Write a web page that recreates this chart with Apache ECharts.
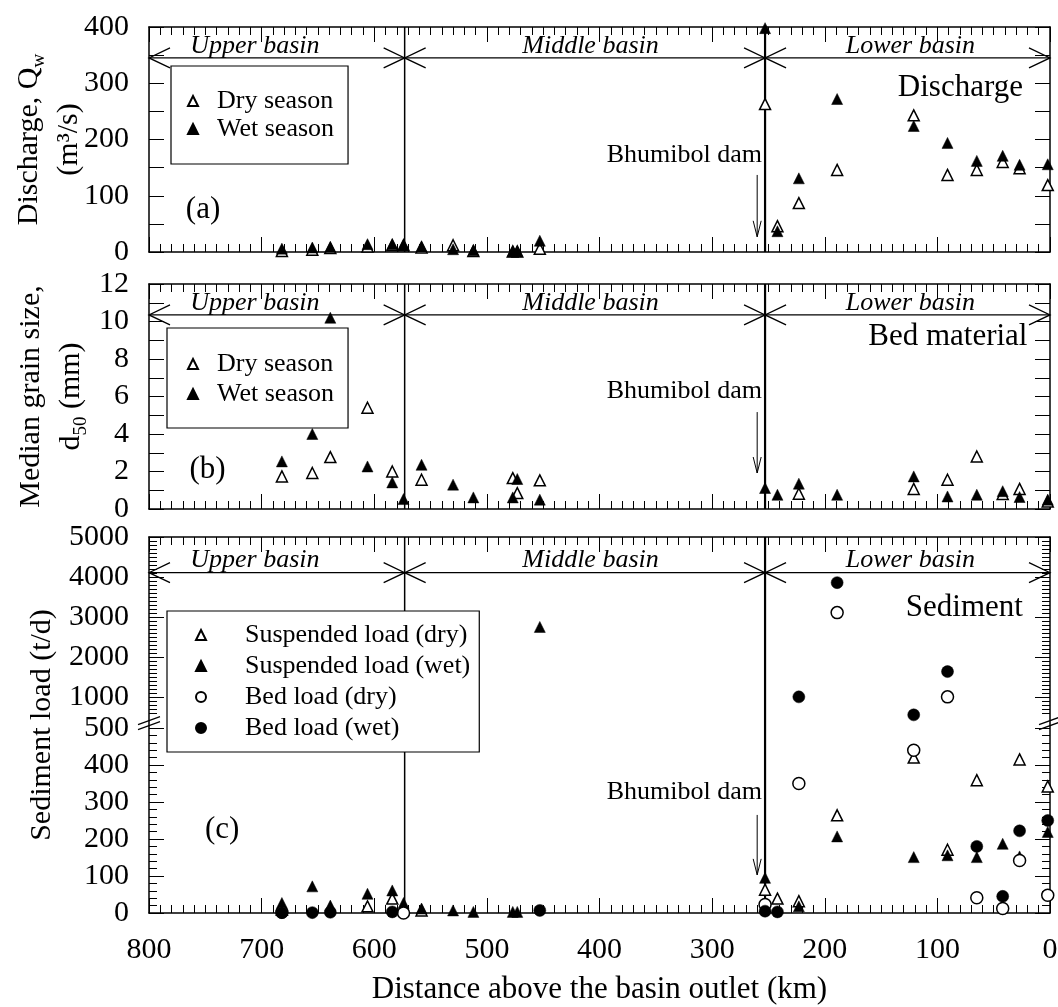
<!DOCTYPE html>
<html><head><meta charset="utf-8">
<script src="https://cdn.jsdelivr.net/npm/echarts@6/dist/echarts.min.js"></script>
<style>html,body{margin:0;padding:0;background:#fff}#c{width:1058px;height:1007px}</style>
</head><body><div id="c"></div>
<script>
// ---------- DATA ----------
const stationKm     = [682, 655, 639, 606, 584, 574, 558, 530, 512, 477, 473, 453, 253, 242, 223, 189, 121, 91, 65, 42, 27, 2];
const dischargeDry  = [2, 4, 7, 10, 12, 12, 8, 12, 2, 1, 1, 6, 263, 46, 87, 146, 243, 137, 146, 160, 149, 119];
const dischargeWet  = [6, 8, 9, 14, 14, 13, 10, 5, 3, 1, 1, 20, 398, 37, 131, 272, 224, 194, 162, 171, 155, 156];
const grainDry      = [1.74, 1.92, 2.77, 5.4, 2.0, null, 1.56, null, null, 1.65, 0.85, 1.53, null, null, 0.82, null, 1.07, 1.56, 2.8, 0.8, 1.07, 0.4];
const grainWet      = [2.54, 4.0, 10.2, 2.27, 1.42, 0.53, 2.36, 1.3, 0.62, 0.62, 1.6, 0.5, 1.12, 0.76, 1.35, 0.76, 1.74, 0.67, 0.76, 0.95, 0.64, 0.5];
const suspDry       = [9, null, null, 18, 39, null, 7, null, null, null, null, null, 63, 39, 32, 264, 420, 171, 359, null, 415, 342];
const suspWet       = [27, 72, 20, 52, 61, 27, 12, 7, 3, 3, 3, 2750, 95, null, 18, 207, 151, 156, 151, 187, 153, 219];
const bedDry        = [2, null, null, null, null, 0, null, null, null, null, null, null, 23, null, 350, 3108, 440, 1000, 41, 12, 142, 48];
const bedWet        = [1, 1, 2, null, 3, null, null, null, null, null, null, 7, 5, 3, 1000, 3858, 550, 1633, 180, 45, 222, 250];

const basinBounds   = [800, 573, 253, 0];
const basinNames    = ['Upper basin', 'Middle basin', 'Lower basin'];
const basinLabelKm  = [706, 408, 124];
const damKm         = 253;

const sedMajorTicks = [0, 100, 200, 300, 400, 500, 1000, 2000, 3000, 4000, 5000];

// ---------- broken axis transform for panel (c) ----------
const BREAK = 500, GAP = 30, UPPER_K = 0.108;
function sedY(v) { return v <= BREAK ? v : BREAK + GAP + (v - BREAK) * UPPER_K; }
const SED_MAX = sedY(5000);
const sedMajorDisp = sedMajorTicks.map(sedY);
const sedMinorDisp = [];
for (let v = 20; v < 500; v += 20) if (v % 100 !== 0) sedMinorDisp.push(sedY(v));
for (let v = 600; v < 5000; v += 100) if (v % 1000 !== 0) sedMinorDisp.push(sedY(v));

function pairs(ys, tf) {
  const out = [];
  stationKm.forEach((x, i) => { if (ys[i] != null) out.push([x, tf ? tf(ys[i]) : ys[i]]); });
  return out;
}

const FONT = '"Liberation Serif","Times New Roman",Times,serif';
const BLACK = '#000';

// ---------- axes ----------
function xAx(grid, pos, showLabel, name) {
  return {
    type: 'value', gridIndex: grid, position: pos, min: 0, max: 800, interval: 100, inverse: true,
    axisLine: { show: true, onZero: false, lineStyle: { color: BLACK, width: 1.5 } },
    axisTick: { show: true, inside: true, length: 15, lineStyle: { color: BLACK, width: 1 } },
    minorTick: { show: true, splitNumber: 10, length: 8, lineStyle: { color: BLACK, width: 1 } },
    splitLine: { show: false }, minorSplitLine: { show: false },
    axisLabel: { show: showLabel, margin: 22, fontSize: 30, fontFamily: FONT, color: BLACK },
    name: name || '', nameLocation: 'middle', nameGap: 61, nameMoveOverlap: false,
    nameTextStyle: { fontSize: 31, fontFamily: FONT, color: BLACK }
  };
}
function yAx(grid, pos, min, max, interval, fmt, name, nameGap, nameStyle) {
  return {
    type: 'value', gridIndex: grid, position: pos, min: min, max: max, interval: interval,
    axisLine: { show: true, onZero: false, lineStyle: { color: BLACK, width: 1.5 } },
    axisTick: { show: true, inside: true, length: 15, lineStyle: { color: BLACK, width: 1 } },
    splitLine: { show: false },
    axisLabel: { show: !!fmt, margin: 20, fontSize: 30, fontFamily: FONT, color: BLACK, formatter: fmt || undefined },
    name: name || '', nameLocation: 'middle', nameGap: nameGap || 0, nameMoveOverlap: false,
    nameTextStyle: nameStyle || {}
  };
}

const subRich = { s: { fontSize: 19, fontFamily: FONT, color: BLACK, verticalAlign: 'bottom', lineHeight: 40 } };
const nameStyleAB = { fontSize: 30, fontFamily: FONT, color: BLACK, lineHeight: 40, rich: subRich };

const yAxes = [
  yAx(0, 'left', 0, 400, 50, v => (v % 100 === 0 ? String(v) : ''), 'Discharge, Q{s|w}\n(m³/s)', 60, nameStyleAB),
  yAx(0, 'right', 0, 400, 50, null),
  yAx(1, 'left', 0, 12, 1, v => (v % 2 === 0 ? String(v) : ''), 'Median grain size,\nd{s|50} (mm)', 58, nameStyleAB),
  yAx(1, 'right', 0, 12, 1, null),
  yAx(2, 'left', 0, SED_MAX, null,
    v => { const i = sedMajorDisp.findIndex(d => Math.abs(d - v) < 0.5); return i >= 0 ? String(sedMajorTicks[i]) : ''; },
    'Sediment load (t/d)', 92, { fontSize: 30, fontFamily: FONT, color: BLACK }),
  yAx(2, 'right', 0, SED_MAX, null, null),
  yAx(2, 'left', 0, SED_MAX, null, null),
  yAx(2, 'right', 0, SED_MAX, null, null)
];
[4, 5, 6, 7].forEach(i => delete yAxes[i].interval);
yAxes[4].axisLabel.customValues = sedMajorDisp;
yAxes[4].axisTick.customValues = sedMajorDisp;
yAxes[5].axisTick.customValues = sedMajorDisp;
[6, 7].forEach(i => {
  yAxes[i].axisLine.show = false;
  yAxes[i].axisTick.customValues = sedMinorDisp;
  yAxes[i].axisTick.length = 8;
});

// ---------- annotations (drawn through the axes' scales) ----------
function annot(cfg) {
  return function (params, api) {
    const ch = [];
    const Y = cfg.tf || (v => v);
    const ln = (a, b, w) => ch.push({ type: 'line', shape: { x1: a[0], y1: a[1], x2: b[0], y2: b[1] }, style: { stroke: BLACK, lineWidth: w || 1.3 } });
    const pl = (pts, w) => ch.push({ type: 'polyline', shape: { points: pts }, style: { stroke: BLACK, fill: null, lineWidth: w || 1.3 } });
    const tx = (p, text, font, align) => ch.push({ type: 'text', x: p[0], y: p[1], style: { text: text, font: font, fill: BLACK, align: align || 'center', verticalAlign: 'middle' } });
    ln(api.coord([573, Y(cfg.yMin)]), api.coord([573, Y(cfg.yMax)]), 1.5);
    ln(api.coord([damKm, Y(cfg.yMin)]), api.coord([damKm, Y(cfg.yMax)]), 2.2);
    for (let i = 0; i < 3; i++) {
      const a = api.coord([basinBounds[i], Y(cfg.arrowY)]);
      const b = api.coord([basinBounds[i + 1], Y(cfg.arrowY)]);
      ln(a, b, 1.3);
      pl([[a[0] + 21, a[1] - 10], [a[0], a[1]], [a[0] + 21, a[1] + 10]]);
      pl([[b[0] - 21, b[1] - 10], [b[0], b[1]], [b[0] - 21, b[1] + 10]]);
      const c = api.coord([basinLabelKm[i], Y(cfg.arrowY)]);
      tx([c[0], c[1] - 12], basinNames[i], 'italic 26px ' + FONT);
    }
    const d = api.coord([damKm, Y(cfg.damTextY)]);
    tx([d[0] - 3, d[1]], 'Bhumibol dam', '26px ' + FONT, 'right');
    const t1 = api.coord([cfg.damArrowKm, Y(cfg.damArrow[0])]);
    const t2 = api.coord([cfg.damArrowKm, Y(cfg.damArrow[1])]);
    ln(t1, t2, 1);
    pl([[t2[0] - 4, t2[1] - 16], [t2[0], t2[1]], [t2[0] + 4, t2[1] - 16]], 1);
    tx(api.coord([cfg.titleKm, Y(cfg.titleY)]), cfg.title, '31px ' + FONT, 'right');
    tx(api.coord([cfg.tagKm, Y(cfg.tagY)]), cfg.tag, '31px ' + FONT, 'center');
    if (cfg.breakY != null) {
      [800, 0].forEach(k => {
        const p = api.coord([k, cfg.breakY]);
        [-2.5, 2.5].forEach(o => ln([p[0] - 11, p[1] + o + 4], [p[0] + 11, p[1] + o - 4], 1.2));
      });
    }
    return { type: 'group', children: ch };
  };
}

const panelCfg = [
  { yMin: 0, yMax: 400, arrowY: 345, damTextY: 172, damArrowKm: 260, damArrow: [137, 27], title: 'Discharge', titleKm: 24, titleY: 292, tag: '(a)', tagKm: 752, tagY: 75 },
  { yMin: 0, yMax: 12, arrowY: 10.35, damTextY: 6.3, damArrowKm: 260, damArrow: [5.17, 1.92], title: 'Bed material', titleKm: 20, titleY: 9.17, tag: '(b)', tagKm: 748, tagY: 2.08 },
  { yMin: 0, yMax: 5000, tf: sedY, arrowY: 4108, damTextY: 327, damArrowKm: 260, damArrow: [265, 103], title: 'Sediment', titleKm: 24, titleY: 3222, tag: '(c)', tagKm: 735, tagY: 224, breakY: 513 }
];

function annotSeries(i, xi, yi) {
  return { type: 'custom', name: 'annot' + i, xAxisIndex: xi, yAxisIndex: yi, silent: true, z: 1, clip: false,
    data: [[400, 0]], renderItem: annot(panelCfg[i]) };
}
const openStyle = { color: '#fff', borderColor: BLACK, borderWidth: 1.5, opacity: 1 };
const fillStyle = { color: BLACK, borderColor: BLACK, borderWidth: 0.5, opacity: 1 };
function sc(name, xi, yi, data, symbol, size, style) {
  return { type: 'scatter', name: name, xAxisIndex: xi, yAxisIndex: yi, data: data, symbol: symbol, symbolSize: size,
    itemStyle: style, z: 3, silent: true };
}

function legendBox(left, top, names, pad, gap, textPad) {
  return {
    orient: 'vertical', left: left, top: top, data: names, padding: pad, itemGap: gap,
    itemWidth: 10, itemHeight: 10, borderColor: BLACK, borderWidth: 1.2, backgroundColor: '#fff',
    borderRadius: 0, selectedMode: false, z: 10,
    textStyle: { fontSize: 26, fontFamily: FONT, color: BLACK, padding: [0, 0, 0, textPad] }
  };
}

const gridBase = { left: 149, right: 8, outerBoundsMode: 'none', containLabel: false };
const option = {
  animation: false,
  backgroundColor: '#fff',
  grid: [
    Object.assign({ top: 27, height: 225 }, gridBase),
    Object.assign({ top: 284, height: 225 }, gridBase),
    Object.assign({ top: 537, height: 376 }, gridBase)
  ],
  xAxis: [
    xAx(0, 'bottom', false), xAx(0, 'top', false),
    xAx(1, 'bottom', false), xAx(1, 'top', false),
    xAx(2, 'bottom', true, 'Distance above the basin outlet (km)'), xAx(2, 'top', false)
  ],
  yAxis: yAxes,
  legend: [
    legendBox(171, 66, ['Dry season', 'Wet season'], [22, 14, 22, 16], 2, 14),
    legendBox(167, 328, ['Dry season', 'Wet season'], [23, 14, 21, 20], 4, 14),
    legendBox(167, 611, ['Suspended load (dry)', 'Suspended load (wet)', 'Bed load (dry)', 'Bed load (wet)'], [11, 9, 11, 28], 5, 34)
  ],
  series: [
    annotSeries(0, 0, 0),
    sc('Dry season', 0, 0, pairs(dischargeDry), 'triangle', 11, openStyle),
    sc('Wet season', 0, 0, pairs(dischargeWet), 'triangle', 11, fillStyle),
    annotSeries(1, 2, 2),
    sc('Dry season', 2, 2, pairs(grainDry), 'triangle', 11, openStyle),
    sc('Wet season', 2, 2, pairs(grainWet), 'triangle', 11, fillStyle),
    annotSeries(2, 4, 4),
    sc('Suspended load (dry)', 4, 4, pairs(suspDry, sedY), 'triangle', 11, openStyle),
    sc('Suspended load (wet)', 4, 4, pairs(suspWet, sedY), 'triangle', 11, fillStyle),
    sc('Bed load (dry)', 4, 4, pairs(bedDry, sedY), 'circle', 12, openStyle),
    sc('Bed load (wet)', 4, 4, pairs(bedWet, sedY), 'circle', 12, fillStyle)
  ]
};

const chart = echarts.init(document.getElementById('c'), null, { renderer: 'canvas' });
chart.setOption(option);
</script>
</body></html>
